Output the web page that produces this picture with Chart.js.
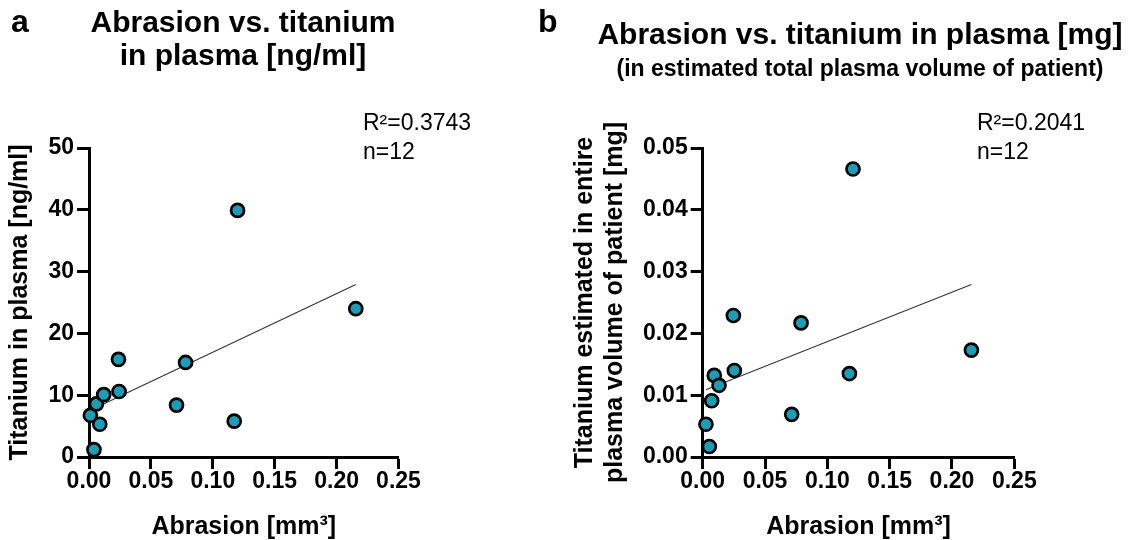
<!DOCTYPE html>
<html><head><meta charset="utf-8">
<script src="https://cdn.jsdelivr.net/npm/chart.js@4"></script>
<style>
html,body{margin:0;padding:0;background:#fff;width:1137px;height:540px;overflow:hidden;font-family:"Liberation Sans",Arial,sans-serif;}
.t{position:absolute;white-space:nowrap;color:#000;line-height:1;}
.c{transform:translate(-50%,-50%);}
.l{transform:translate(0,-50%);}
canvas{position:absolute;top:0;}
</style></head><body>
<canvas id="cA" width="560" height="540" style="left:0px"></canvas>
<canvas id="cB" width="577" height="540" style="left:560px"></canvas>

<div class="t l" style="left:11px;top:21px;font-weight:bold;font-size:32px;">a</div>
<div class="t l" style="left:538px;top:21px;font-weight:bold;font-size:32px;">b</div>
<div class="t c" style="left:243px;top:22px;font-weight:bold;font-size:30px;">Abrasion vs. titanium</div>
<div class="t c" style="left:243px;top:55px;font-weight:bold;font-size:30px;">in plasma [ng/ml]</div>
<div class="t c" style="left:860px;top:34px;font-weight:bold;font-size:30px;">Abrasion vs. titanium in plasma [mg]</div>
<div class="t c" style="left:860px;top:68px;font-weight:bold;font-size:23px;">(in estimated total plasma volume of patient)</div>
<div class="t l" style="left:363px;top:122px;font-size:23px;">R²=0.3743</div>
<div class="t l" style="left:363px;top:151px;font-size:23px;">n=12</div>
<div class="t l" style="left:977px;top:122px;font-size:23px;">R²=0.2041</div>
<div class="t l" style="left:977px;top:151px;font-size:23px;">n=12</div>

<script>
// ---- data ----
const abrasionA = [0.0011, 0.004, 0.006, 0.0087, 0.0119, 0.0238, 0.0243, 0.0707, 0.078, 0.1173, 0.120, 0.2155];
const titaniumConc = [6.75, 1.2, 8.6, 5.3, 10.1, 15.8, 10.6, 8.4, 15.3, 5.8, 39.9, 24.0];
const fitA_x = [0.0011, 0.2155];
const fitA_y = [7.55, 27.9];

const abrasionB = [0.0026, 0.0053, 0.0072, 0.0093, 0.0131, 0.0246, 0.0254, 0.0714, 0.0789, 0.1177, 0.1206, 0.2156];
const titaniumMass = [0.0053, 0.0017, 0.0091, 0.0132, 0.0116, 0.0229, 0.0140, 0.0069, 0.0217, 0.0135, 0.0466, 0.0173];
const fitB_x = [0.0026, 0.2156];
const fitB_y = [0.0109, 0.0279];

const xTickValues = [0, 0.05, 0.10, 0.15, 0.20, 0.25];
const yTickValuesA = [0, 10, 20, 30, 40, 50];
const yTickValuesB = [0, 0.01, 0.02, 0.03, 0.04, 0.05];

const xTitle = 'Abrasion [mm³]';
const yTitleA = 'Titanium in plasma [ng/ml]';
const yTitleB = ['Titanium estimated in entire', 'plasma volume of patient [mg]'];

// ---- helpers ----
const FONT = '"Liberation Sans", Arial, sans-serif';
const pts = (xs, ys) => xs.map((x, i) => ({x: x, y: ys[i]}));

function makeChart(id, xs, ys, fx, fy, yTicks, yMax, yDecimals, yTitle, opt) {
  const tickFont = {family: FONT, size: 23, weight: 'bold', lineHeight: 1.0};
  return new Chart(document.getElementById(id), {
    type: 'scatter',
    data: {
      datasets: [
        {
          data: pts(xs, ys),
          order: 0,
          clip: false,
          pointRadius: 6.5,
          pointHoverRadius: 6.5,
          pointBackgroundColor: '#1c9db6',
          pointBorderColor: '#000',
          pointBorderWidth: 2.7,
          showLine: false
        },
        {
          type: 'line',
          data: pts(fx, fy),
          order: 1,
          borderColor: '#333',
          borderWidth: 1.1,
          pointRadius: 0,
          fill: false,
          tension: 0
        }
      ]
    },
    options: {
      responsive: false,
      animation: false,
      events: [],
      layout: {padding: {left: 0, top: 148, right: opt.padRight, bottom: 0}},
      plugins: {legend: {display: false}, tooltip: {enabled: false}, title: {display: false}},
      scales: {
        x: {
          type: 'linear', min: 0, max: 0.25,
          afterBuildTicks: s => { s.ticks = xTickValues.map(v => ({value: v})); },
          afterFit: s => { s.height = 83; },
          ticks: {color: '#000', font: tickFont, padding: 1, maxRotation: 0, autoSkip: false,
                  callback: v => Number(v).toFixed(2)},
          grid: {display: true, drawOnChartArea: false, drawTicks: true, tickLength: 12, tickWidth: 3, tickColor: '#000'},
          border: {display: true, width: 3, color: '#000'},
          title: {display: true, text: xTitle, color: '#000', font: {family: FONT, size: 25, weight: 'bold', lineHeight: 1.0}, padding: {top: 0, bottom: 0}}
        },
        y: {
          type: 'linear', min: 0, max: yMax,
          afterBuildTicks: s => { s.ticks = yTicks.map(v => ({value: v})); },
          afterFit: s => { s.width = opt.yWidth; },
          ticks: {color: '#000', font: tickFont, padding: 3, autoSkip: false,
                  callback: v => Number(v).toFixed(yDecimals)},
          grid: {display: true, drawOnChartArea: false, drawTicks: true, tickLength: 12, tickWidth: 3, tickColor: '#000'},
          border: {display: true, width: 3, color: '#000'},
          title: {display: true, text: yTitle, color: '#000', font: {family: FONT, size: 25, weight: 'bold', lineHeight: 1.2}, padding: {top: opt.yTitlePad, bottom: 0}}
        }
      }
    }
  });
}

makeChart('cA', abrasionA, titaniumConc, fitA_x, fitA_y, yTickValuesA, 50, 0, yTitleA,
          {padRight: 161.5, yWidth: 89, yTitlePad: 5});
makeChart('cB', abrasionB, titaniumMass, fitB_x, fitB_y, yTickValuesB, 0.05, 2, yTitleB,
          {padRight: 122.7, yWidth: 142.7, yTitlePad: 10});
</script>
</body></html>
